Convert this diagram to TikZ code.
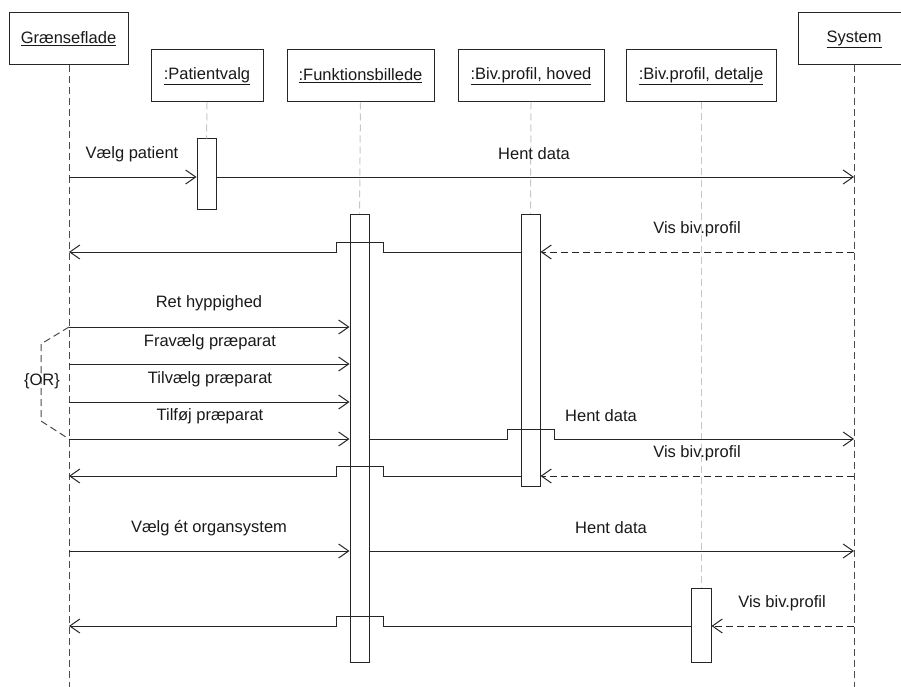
\documentclass[tikz,border=0pt]{standalone}
\usepackage{fontspec}
\setmainfont{Liberation Sans}
\usetikzlibrary{arrows.meta}
\begin{document}
\begin{tikzpicture}[x=1pt,y=-1pt,
  every node/.style={font=\fontsize{16.5}{19}\selectfont, text=black!90},
  objbox/.style={draw=black!85, line width=1pt, fill=white, rectangle, inner sep=0pt},
  actbox/.style={draw=black!85, line width=1pt, fill=white, rectangle, inner sep=0pt, minimum width=19pt},
  lifedark/.style={draw=black!70, line width=1pt, dash pattern=on 7pt off 4pt},
  lifelight/.style={draw=black!22, line width=1pt, dash pattern=on 7pt off 4pt},
  msg/.style={draw=black!85, line width=1pt, -{Straight Barb[length=10pt,width=14pt,line width=1pt]}},
  ret/.style={msg, dash pattern=on 7pt off 4pt},
  orline/.style={draw=black!70, line width=1pt, dash pattern=on 7pt off 4pt},
  lbl/.style={anchor=center, inner sep=0pt}
]
\useasboundingbox (0,0) rectangle (901,687);

% header boxes
\node[objbox, minimum width=119pt, minimum height=52pt] (gr) at (68.5,39) {\underline{Grænseflade}};
\node[objbox, minimum width=112pt, minimum height=52pt] (pv) at (207,76) {\underline{:Patientvalg}};
\node[objbox, minimum width=147pt, minimum height=52pt] (fb) at (360.5,76) {\underline{:Funktionsbillede}};
\node[objbox, minimum width=146pt, minimum height=52pt] (ho) at (531,76) {\underline{:Biv.profil, hoved}};
\node[objbox, minimum width=150pt, minimum height=52pt] (de) at (701,76) {\underline{:Biv.profil, detalje}};
\node[objbox, minimum width=112pt, minimum height=52pt] (sy) at (854,39) {\underline{System}};

% lifeline ends
\coordinate (grend) at (69,687);
\coordinate (syend) at (854,687);

% activations
\node[actbox, minimum height=70pt] (pva) at (206.5,174) {};
\node[actbox, minimum height=448pt] (fba) at (359.5,438) {};
\node[actbox, minimum height=272pt] (hoa) at (530.5,350) {};
\node[actbox, minimum width=20pt, minimum height=74pt] (dea) at (701,625) {};

% lifelines
\draw[lifedark] (gr.south -| 69,0) -- (grend);
\draw[lifedark] (sy.south) -- (syend);
\draw[lifelight] (pv.south) -- (pva.north);
\draw[lifelight] (fb.south) -- (fba.north);
\draw[lifelight] (ho.south) -- (hoa.north);
\draw[lifelight] (de.south) -- (dea.north);

% message rows
\coordinate (r1) at (0,177);
\coordinate (r2) at (0,252);
\coordinate (r3) at (0,327);
\coordinate (r4) at (0,364);
\coordinate (r5) at (0,402);
\coordinate (r6) at (0,439);
\coordinate (r7) at (0,476);
\coordinate (r8) at (0,551);
\coordinate (r9) at (0,626);

% row 1
\draw[msg] (grend |- r1) -- (pva.west |- r1);
\draw[msg] (pva.east |- r1) -- (syend |- r1);
\node[lbl] at (132,154) {Vælg patient};
\node[lbl] at (534,154) {Hent data};

% row 2
\draw[ret] (syend |- r2) -- (hoa.east |- r2);
\draw[msg] (hoa.west |- r2) -- (383,252) -- (383,242) -- (336,242) -- (336,252) -- (grend |- r2);
\node[lbl] at (697,229) {Vis biv.profil};

% OR block
\draw[msg] (grend |- r3) -- (fba.west |- r3);
\draw[msg] (grend |- r4) -- (fba.west |- r4);
\draw[msg] (grend |- r5) -- (fba.west |- r5);
\draw[msg] (grend |- r6) -- (fba.west |- r6);
\node[lbl] at (209,303) {Ret hyppighed};
\node[lbl] at (210,342) {Fravælg præparat};
\node[lbl] at (210,379) {Tilvælg præparat};
\node[lbl] at (210,416) {Tilføj præparat};
\draw[orline] (grend |- r3) -- (41,344) -- (41,421) -- (grend |- r6);
\node[lbl] at (42,381) {\{OR\}};

% row 6 right
\draw[msg] (fba.east |- r6) -- (507,439) -- (507,429) -- (554,429) -- (554,439) -- (syend |- r6);
\node[lbl] at (601,416) {Hent data};

% row 7
\draw[ret] (syend |- r7) -- (hoa.east |- r7);
\draw[msg] (hoa.west |- r7) -- (383,476) -- (383,466) -- (336,466) -- (336,476) -- (grend |- r7);
\node[lbl] at (697,453) {Vis biv.profil};

% row 8
\draw[msg] (grend |- r8) -- (fba.west |- r8);
\draw[msg] (fba.east |- r8) -- (syend |- r8);
\node[lbl] at (209,528) {Vælg ét organsystem};
\node[lbl] at (611,528) {Hent data};

% row 9
\draw[ret] (syend |- r9) -- (dea.east |- r9);
\draw[msg] (dea.west |- r9) -- (383,626) -- (383,616) -- (336,616) -- (336,626) -- (grend |- r9);
\node[lbl] at (782,603) {Vis biv.profil};
\end{tikzpicture}
\end{document}
